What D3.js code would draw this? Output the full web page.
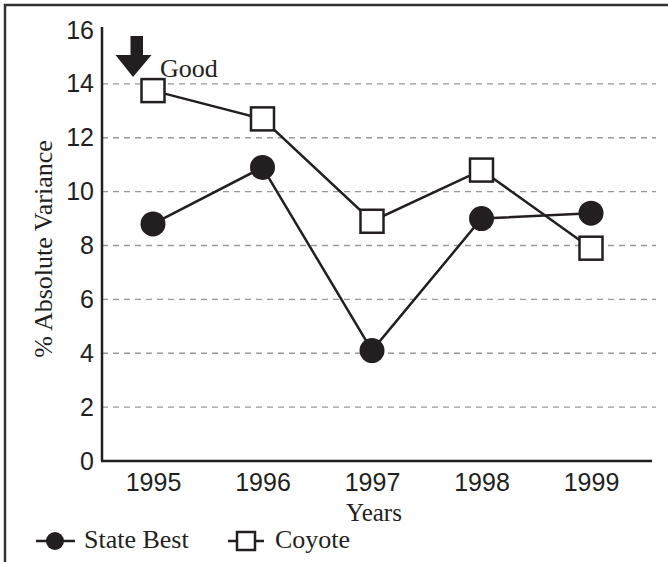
<!DOCTYPE html>
<html>
<head>
<meta charset="utf-8">
<script src="https://cdn.jsdelivr.net/npm/d3@7"></script>
<style>
  body { margin: 0; background: #fff; }
  svg { display: block; }
</style>
</head>
<body>
<div id="chart"></div>
<script>
// values
var years = ["1995", "1996", "1997", "1998", "1999"];
var stateBest = [8.8, 10.9, 4.1, 9.0, 9.2];
var coyote = [13.75, 12.7, 8.9, 10.8, 7.9];
var yTicks = [0, 2, 4, 6, 8, 10, 12, 14, 16];
var gridTicks = [2, 4, 6, 8, 10, 12, 14];

var W = 668, H = 562;
var ink = "#231f20";
var sans = "Liberation Sans, Arial, sans-serif";
var serif = "Liberation Serif, Times New Roman, serif";

var svg = d3.select("#chart").append("svg")
  .attr("width", W)
  .attr("height", H);

// frame (left + top edges only, the rest is cropped off)
svg.append("path")
  .attr("d", "M5,562 V5 H668")
  .attr("fill", "none")
  .attr("stroke", "#333")
  .attr("stroke-width", 2.5);

var x = d3.scalePoint()
  .domain(years)
  .range([153, 591]);

var y = d3.scaleLinear()
  .domain([0, 16])
  .range([461, 30]);

var axisLeftX = 102, axisRightX = 652;

// dashed grid
svg.append("g")
  .selectAll("line")
  .data(gridTicks)
  .enter().append("line")
  .attr("x1", axisLeftX)
  .attr("x2", 656)
  .attr("y1", function(d) { return y(d); })
  .attr("y2", function(d) { return y(d); })
  .attr("stroke", "#999")
  .attr("stroke-width", 1.3)
  .style("stroke-dasharray", "6,5");

// y axis
var yAxis = svg.append("g")
  .attr("transform", "translate(" + axisLeftX + ",0)")
  .call(d3.axisLeft(y).tickValues(yTicks).tickSize(0).tickPadding(8));
yAxis.select(".domain").remove();
yAxis.selectAll("text")
  .attr("font-family", sans)
  .attr("font-size", 25)
  .attr("fill", ink);

svg.append("line")
  .attr("x1", axisLeftX).attr("x2", axisLeftX)
  .attr("y1", 27).attr("y2", y(0))
  .attr("stroke", ink).attr("stroke-width", 2.5);

// x axis
var xAxis = svg.append("g")
  .attr("transform", "translate(0," + y(0) + ")")
  .call(d3.axisBottom(x).tickSize(0).tickPadding(12));
xAxis.select(".domain").remove();
xAxis.selectAll("text")
  .attr("font-family", sans)
  .attr("font-size", 25)
  .attr("fill", ink);

svg.append("line")
  .attr("x1", axisLeftX - 1).attr("x2", axisRightX)
  .attr("y1", y(0)).attr("y2", y(0))
  .attr("stroke", ink).attr("stroke-width", 2.5);

// axis titles
svg.append("text")
  .attr("x", 374)
  .attr("y", 521)
  .attr("text-anchor", "middle")
  .attr("font-family", serif)
  .attr("font-size", 25)
  .attr("fill", ink)
  .text("Years");

svg.append("text")
  .attr("transform", "translate(52,249) rotate(-90)")
  .attr("text-anchor", "middle")
  .attr("font-family", serif)
  .attr("font-size", 26)
  .attr("fill", ink)
  .text("% Absolute Variance");

// lines
var line = d3.line()
  .x(function(d, i) { return x(years[i]); })
  .y(function(d) { return y(d); });

svg.append("path")
  .datum(coyote)
  .attr("d", line)
  .attr("fill", "none")
  .attr("stroke", ink)
  .attr("stroke-width", 2.5);

svg.append("path")
  .datum(stateBest)
  .attr("d", line)
  .attr("fill", "none")
  .attr("stroke", ink)
  .attr("stroke-width", 2.5);

// markers
svg.append("g")
  .selectAll("circle")
  .data(stateBest)
  .enter().append("circle")
  .attr("cx", function(d, i) { return x(years[i]); })
  .attr("cy", function(d) { return y(d); })
  .attr("r", 12.5)
  .attr("fill", ink);

svg.append("g")
  .selectAll("rect")
  .data(coyote)
  .enter().append("rect")
  .attr("x", function(d, i) { return x(years[i]) - 11.5; })
  .attr("y", function(d) { return y(d) - 11.5; })
  .attr("width", 23)
  .attr("height", 23)
  .attr("fill", "#fff")
  .attr("stroke", ink)
  .attr("stroke-width", 2.5);

// "Good" arrow annotation
svg.append("path")
  .attr("d", "M130.5,36 H143 V55 H151.5 L133,77 L115.5,55 H130.5 Z")
  .attr("fill", ink);

svg.append("text")
  .attr("x", 160)
  .attr("y", 77)
  .attr("font-family", serif)
  .attr("font-size", 26)
  .attr("fill", ink)
  .text("Good");

// legend
var legend = svg.append("g").attr("transform", "translate(0,541)");

legend.append("line")
  .attr("x1", 36).attr("x2", 75).attr("y1", 0).attr("y2", 0)
  .attr("stroke", ink).attr("stroke-width", 2.5);
legend.append("circle")
  .attr("cx", 55).attr("cy", 0).attr("r", 9)
  .attr("fill", ink);
legend.append("text")
  .attr("x", 84).attr("y", 7)
  .attr("font-family", serif)
  .attr("font-size", 26)
  .attr("fill", ink)
  .text("State Best");

legend.append("line")
  .attr("x1", 228).attr("x2", 264).attr("y1", 0).attr("y2", 0)
  .attr("stroke", ink).attr("stroke-width", 2.5);
legend.append("rect")
  .attr("x", 237).attr("y", -9).attr("width", 18).attr("height", 18)
  .attr("fill", "#fff")
  .attr("stroke", ink).attr("stroke-width", 2.5);
legend.append("text")
  .attr("x", 275).attr("y", 7)
  .attr("font-family", serif)
  .attr("font-size", 26)
  .attr("fill", ink)
  .text("Coyote");
</script>
</body>
</html>
